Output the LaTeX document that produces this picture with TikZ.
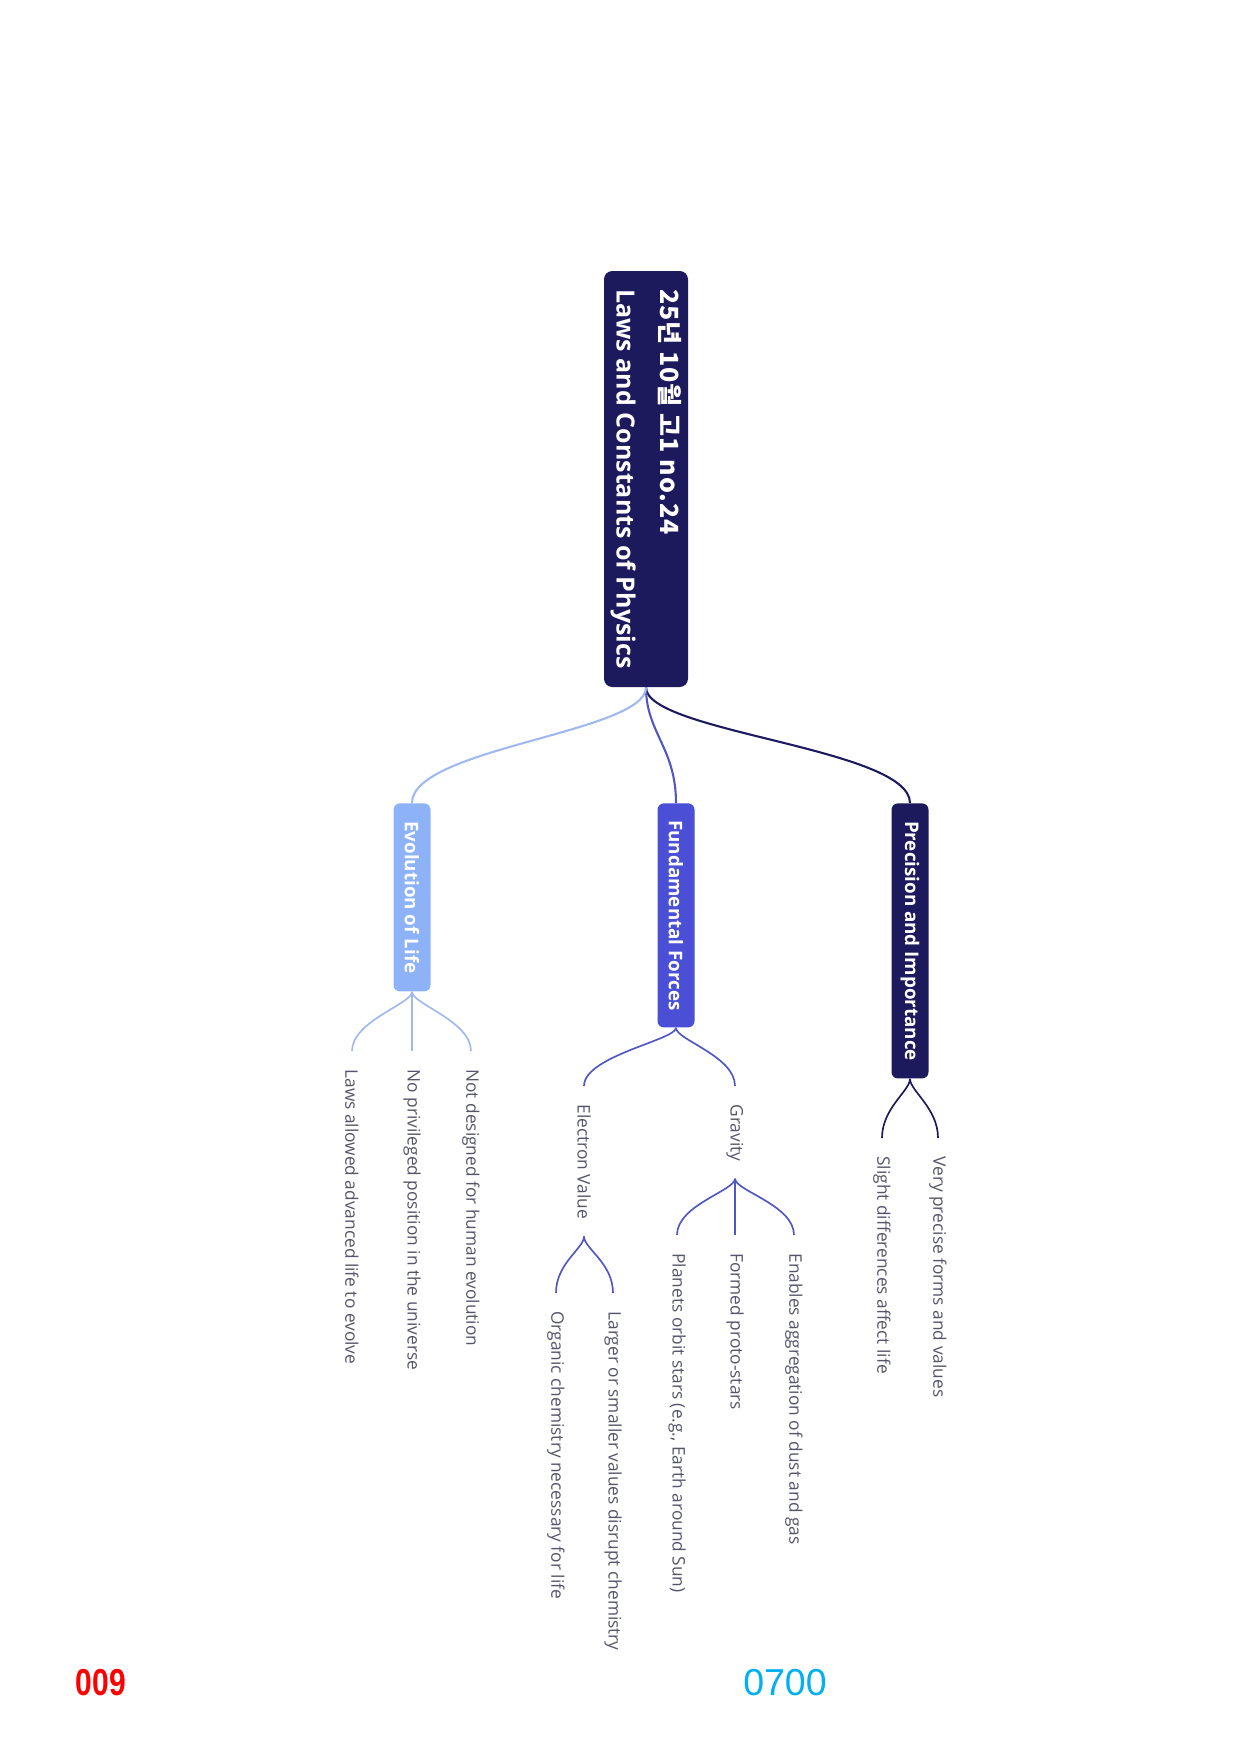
\documentclass[tikz,border=0pt]{standalone}
\usepackage{fontspec}
\setmainfont{Open Sans}
\newfontfamily\krfont[LetterSpace=4]{Noto Sans CJK KR}
\newfontfamily\numfont{Liberation Sans}
\usetikzlibrary{calc}
\definecolor{mmnavy}{HTML}{1C1A5C}
\definecolor{mmblue}{HTML}{4B4FD6}
\definecolor{mmlight}{HTML}{8DB2F7}
\definecolor{mmtwig}{HTML}{5057C2}
\definecolor{mmpale}{HTML}{9FB8F0}
\definecolor{mmleaf}{HTML}{55556A}
\definecolor{pgred}{HTML}{FF0000}
\definecolor{pgcyan}{HTML}{00B0F0}
\def\px{0.4797pt}

\begin{document}
\begin{tikzpicture}[x=\px,y=-\px,
  rootbox/.style={rotate=-90,fill=mmnavy,text=white,rounded corners=4pt,align=left,
    font=\bfseries\fontsize{12}{21}\selectfont,minimum width=416*\px,minimum height=84*\px,inner sep=0pt},
  branchbox/.style={rotate=-90,anchor=west,text=white,rounded corners=3pt,
    font=\bfseries\fontsize{9}{11}\selectfont,minimum height=37*\px,inner sep=0pt},
  leaf/.style={rotate=-90,anchor=west,text=mmleaf,font=\fontsize{8.3}{10}\selectfont,inner sep=0pt},
  link/.style={line width=1pt},
  twig/.style={line width=0.8pt}]
  \useasboundingbox (0,0) rectangle (1241,1755);
  % central topic
  \node[rootbox] (root) at (646,479) {{\krfont 25년 10월 고1 no.24}\\Laws and Constants of Physics};
  % main branches
  \node[branchbox,fill=mmnavy,minimum width=275*\px] (prec) at (910,803) {Precision and Importance};
  \node[branchbox,fill=mmblue,minimum width=224*\px] (fund) at (676,803) {Fundamental Forces};
  \node[branchbox,fill=mmlight,minimum width=188*\px] (evol) at (412,803) {Evolution of Life};
  \draw[link,mmnavy] (root.east) .. controls +(0,45) and +(0,-55) .. (prec.west);
  \draw[link,mmtwig] (root.east) .. controls +(0,45) and +(0,-55) .. (fund.west);
  \draw[link,mmpale] (root.east) .. controls +(0,45) and +(0,-55) .. (evol.west);
  % leaves
  \node[leaf] (prec1) at (938,1156) {Very precise forms and values};
  \node[leaf] (prec2) at (882,1156) {Slight differences affect life};
  \node[leaf] (grav) at (735,1104) {Gravity};
  \node[leaf] (elec) at (584,1104) {Electron Value};
  \node[leaf] (grav1) at (794,1253) {Enables aggregation of dust and gas};
  \node[leaf] (grav2) at (735,1253) {Formed proto-stars};
  \node[leaf] (grav3) at (677,1253) {Planets orbit stars (e.g., Earth around Sun)};
  \node[leaf] (elec1) at (613,1311) {Larger or smaller values disrupt chemistry};
  \node[leaf] (elec2) at (556,1311) {Organic chemistry necessary for life};
  \node[leaf] (evol1) at (471,1069) {Not designed for human evolution};
  \node[leaf] (evol2) at (412,1069) {No privileged position in the universe};
  \node[leaf] (evol3) at (352,1069) {Laws allowed advanced life to evolve};
  \coordinate (gravtip) at ($(grav.east)+(0,17)$);
  \coordinate (electip) at ($(elec.east)+(0,17)$);
  \foreach \p/\c/\col in {prec.east/prec1/mmnavy, prec.east/prec2/mmnavy,
      fund.east/grav/mmtwig, fund.east/elec/mmtwig,
      gravtip/grav1/mmtwig, gravtip/grav2/mmtwig, gravtip/grav3/mmtwig,
      electip/elec1/mmtwig, electip/elec2/mmtwig,
      evol.east/evol1/mmpale, evol.east/evol2/mmpale, evol.east/evol3/mmpale}{
    \draw[twig,\col] (\p) .. controls +(0,12) and +(0,-30) .. ($(\c.west)+(0,-18)$);
  }
  % page marks
  \node[font=\numfont\bfseries\fontsize{18}{18}\selectfont,text=pgred,xscale=0.8] (pgleft) at (101,1683) {009};
  \node[font=\numfont\fontsize{18}{18}\selectfont,text=pgcyan] (pgright) at (785,1683) {0700};
\end{tikzpicture}
\end{document}
